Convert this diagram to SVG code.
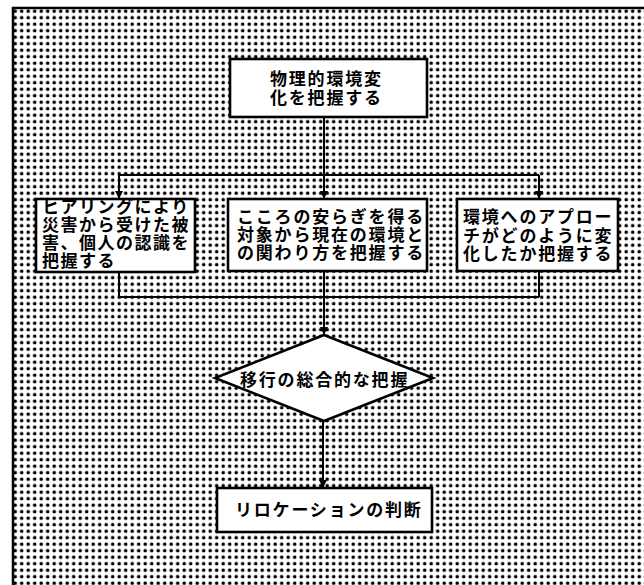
<svg xmlns="http://www.w3.org/2000/svg" width="644" height="585" viewBox="0 0 644 585">
<defs>
<pattern id="dots" x="12" y="8" width="6.5" height="6.5" patternUnits="userSpaceOnUse">
<circle cx="3.2" cy="3.2" r="1.75" fill="#000"/>
</pattern>
<marker id="arr" viewBox="0 0 8 8" refX="8" refY="4" markerWidth="8" markerHeight="8" markerUnits="userSpaceOnUse" orient="auto">
<path d="M0,0 L8,4 L0,8 Z" fill="#000"/>
</marker>
</defs>
<style>
.box{fill:#fff;stroke:#000;stroke-width:2.6}
.t{font-family:"Noto Sans CJK JP","Noto Sans CJK SC",sans-serif;font-weight:bold;font-size:17px;letter-spacing:1.8px;fill:#000}
.s{letter-spacing:1.5px}
.c{fill:none;stroke:#000;stroke-width:2}
</style>
<rect x="0" y="0" width="644" height="585" fill="#fff"/>
<rect x="13" y="8" width="640" height="590" fill="url(#dots)" stroke="#000" stroke-width="2.5"/>
<g id="connectors">
<path class="c" d="M324,117 V175 M119,175 H539 M119,271 V297 M324,271 V297 M539,271 V297 M119,297 H539"/>
<path class="c" d="M119,175 V199" marker-end="url(#arr)"/>
<path class="c" d="M324,175 V199" marker-end="url(#arr)"/>
<path class="c" d="M539,175 V199" marker-end="url(#arr)"/>
<path class="c" d="M324,297 V335" marker-end="url(#arr)"/>
<path class="c" d="M323,421 V488" marker-end="url(#arr)"/>
</g>
<g id="n1">
<rect class="box" x="230" y="59" width="197" height="58"/>
<text class="t" x="270" y="85">物理的環境変</text>
<text class="t" x="270" y="104">化を把握する</text>
</g>
<g id="n2">
<rect class="box" x="36" y="199" width="159" height="73"/>
<text class="t s" x="42" y="213">ヒアリングにより</text>
<text class="t s" x="42" y="231">災害から受けた被</text>
<text class="t s" x="42" y="249">害、個人の認識を</text>
<text class="t s" x="42" y="266.5">把握する</text>
</g>
<g id="n3">
<rect class="box" x="228" y="199" width="199" height="72"/>
<text class="t" x="237" y="223">こころの安らぎを得る</text>
<text class="t" x="237" y="241">対象から現在の環境と</text>
<text class="t" x="237" y="259">の関わり方を把握する</text>
</g>
<g id="n4">
<rect class="box" x="457" y="199" width="161" height="72"/>
<text class="t" x="463" y="223">環境へのアプロー</text>
<text class="t" x="463" y="241.5">チがどのように変</text>
<text class="t" x="463" y="260">化したか把握する</text>
</g>
<g id="n5">
<polygon class="box" points="324,335 433,378 324,421 215,378"/>
<text class="t" x="240" y="385.5">移行の総合的な把握</text>
</g>
<g id="n6">
<rect class="box" x="217" y="488" width="215" height="44"/>
<text class="t" x="235" y="516">リロケーションの判断</text>
</g>
</svg>
